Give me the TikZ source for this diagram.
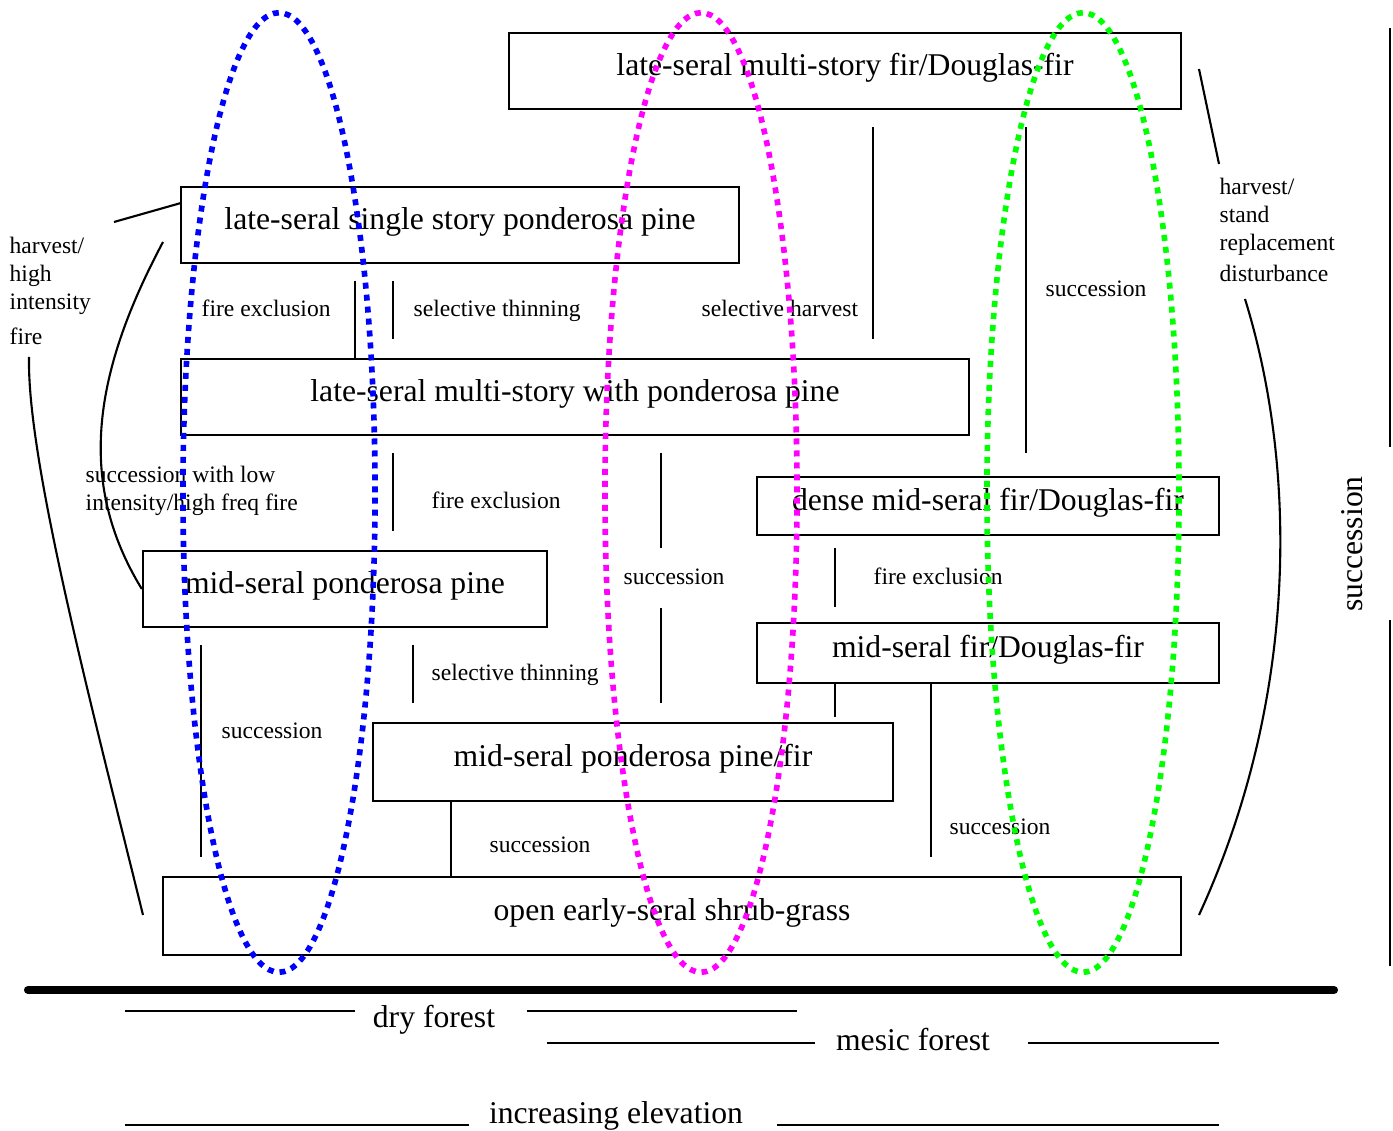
\documentclass[tikz,border=0pt]{standalone}
\usepackage{fontspec}
\setmainfont{Liberation Serif}
\definecolor{dryblue}{RGB}{0,0,255}
\definecolor{drymagenta}{RGB}{255,0,255}
\definecolor{mesicgreen}{RGB}{0,255,0}
\begin{document}
\begin{tikzpicture}[x=0.01cm,y=-0.01cm,
  stage/.style={shape=rectangle,draw=black,line width=0.6pt,inner sep=0pt,text height=0.7em,text depth=0.45em,font=\fontsize{9}{11}\selectfont},
  lbl/.style={inner sep=0pt,font=\fontsize{6.7}{8}\selectfont},
  axis/.style={inner sep=0pt,font=\fontsize{9}{11}\selectfont},
  zone/.style={line width=1.6pt,dash pattern=on 0.06cm off 0.06cm}]
\useasboundingbox (0,0) rectangle (1393,1131);

% seral stages
\node[stage,minimum width=6.72cm,minimum height=0.76cm] (lmfir) at (845,71) {late-seral multi-story fir/Douglas-fir};
\node[stage,minimum width=5.58cm,minimum height=0.76cm] (lsppine) at (460,225) {late-seral single story ponderosa pine};
\node[stage,minimum width=7.88cm,minimum height=0.76cm] (lmppine) at (575,397) {late-seral multi-story with ponderosa pine};
\node[stage,minimum width=4.62cm,minimum height=0.58cm] (dmfir) at (988,506) {dense mid-seral fir/Douglas-fir};
\node[stage,minimum width=4.04cm,minimum height=0.76cm] (mppine) at (345,589) {mid-seral ponderosa pine};
\node[stage,minimum width=4.62cm,minimum height=0.60cm] (mfir) at (988,653) {mid-seral fir/Douglas-fir};
\node[stage,minimum width=5.20cm,minimum height=0.78cm] (mppfir) at (633,762) {mid-seral ponderosa pine/fir};
\node[stage,minimum width=10.18cm,minimum height=0.78cm] (early) at (672,916) {open early-seral shrub-grass};

% transitions
\coordinate (fe1a) at (355,281); \coordinate (fe1b) at (355,359);
\path [-,line width=0.6pt] (fe1a) edge (fe1b);
\coordinate (st1a) at (393,281); \coordinate (st1b) at (393,339);
\path [-,line width=0.6pt] (st1a) edge (st1b);
\coordinate (shva) at (873,127); \coordinate (shvb) at (873,339);
\path [-,line width=0.6pt] (shva) edge (shvb);
\coordinate (sfira) at (1026,127); \coordinate (sfirb) at (1026,453);
\path [-,line width=0.6pt] (sfira) edge (sfirb);
\coordinate (fe2a) at (393,453); \coordinate (fe2b) at (393,531);
\path [-,line width=0.6pt] (fe2a) edge (fe2b);
\coordinate (su1a) at (661,453); \coordinate (su1b) at (661,548);
\path [-,line width=0.6pt] (su1a) edge (su1b);
\coordinate (su2a) at (661,608); \coordinate (su2b) at (661,703);
\path [-,line width=0.6pt] (su2a) edge (su2b);
\coordinate (fe3a) at (835,548); \coordinate (fe3b) at (835,607);
\path [-,line width=0.6pt] (fe3a) edge (fe3b);
\coordinate (mfa) at (835,683); \coordinate (mfb) at (835,717);
\path [-,line width=0.6pt] (mfa) edge (mfb);
\coordinate (su3a) at (931,684); \coordinate (su3b) at (931,857);
\path [-,line width=0.6pt] (su3a) edge (su3b);
\coordinate (st2a) at (413,645); \coordinate (st2b) at (413,703);
\path [-,line width=0.6pt] (st2a) edge (st2b);
\coordinate (su4a) at (201,645); \coordinate (su4b) at (201,857);
\path [-,line width=0.6pt] (su4a) edge (su4b);
\coordinate (su5a) at (451,801); \coordinate (su5b) at (451,877);
\path [-,line width=0.6pt] (su5a) edge (su5b);

% disturbance loops
\coordinate (hh1) at (114,222); \coordinate (hh2) at (181,203);
\path [-,line width=0.6pt] (hh1) edge (hh2);
\coordinate (lowf) at (163,242);
\draw[line width=0.6pt] (lowf) .. controls (95,370) and (75,480) .. (mppine.west);
\coordinate (hh3) at (29,357); \coordinate (hh4) at (143,915);
\draw[line width=0.6pt] (hh3) .. controls (27,460) and (90,700) .. (hh4);
\coordinate (hs1) at (1199,69); \coordinate (hs2) at (1219,164);
\path [-,line width=0.6pt] (hs1) edge (hs2);
\coordinate (hs3) at (1245,299); \coordinate (hs4) at (1199,915);
\draw[line width=0.6pt] (hs3) .. controls (1298,470) and (1298,700) .. (hs4);

% labels
\node[lbl,anchor=north west,align=left] (hhlbl) at (9,236) {harvest/\\high\\intensity\\[2pt]fire};
\node[lbl,anchor=north west,align=left] (hslbl) at (1219,177) {harvest/\\stand\\replacement\\[1pt]disturbance};
\node[lbl,anchor=north west,align=left] (lowlbl) at (85,465) {succession with low\\intensity/high freq fire};
\node[lbl,anchor=base west] (fe1) at (201,317) {fire exclusion};
\node[lbl,anchor=base west] (st1) at (413,317) {selective thinning};
\node[lbl,anchor=base west] (shv) at (701,317) {selective harvest};
\node[lbl,anchor=base west] (sfir) at (1045,297) {succession};
\node[lbl,anchor=base west] (fe2) at (431,509) {fire exclusion};
\node[lbl,anchor=base west] (su1) at (623,585) {succession};
\node[lbl,anchor=base west] (fe3) at (873,585) {fire exclusion};
\node[lbl,anchor=base west] (st2) at (431,681) {selective thinning};
\node[lbl,anchor=base west] (su4) at (221,739) {succession};
\node[lbl,anchor=base west] (su5) at (489,853) {succession};
\node[lbl,anchor=base west] (su3) at (949,835) {succession};
\node[axis,rotate=90] (suc) at (1352,544) {succession};
\draw[line width=0.6pt] (1390,28) -- (1390,447) (1390,620) -- (1390,966);

% forest zones
\draw[zone,dryblue] (279,492.5) ellipse [x radius=0.96cm, y radius=4.795cm];
\draw[zone,drymagenta] (701,492.5) ellipse [x radius=0.96cm, y radius=4.795cm];
\draw[zone,mesicgreen] (1083,492.5) ellipse [x radius=0.96cm, y radius=4.795cm];

% elevation axis
\draw[line width=2.3pt,line cap=round] (28,990) -- (1334,990);
\node[axis,anchor=base] (dry) at (434,1028) {dry forest};
\node[axis,anchor=base] (mesic) at (913,1051) {mesic forest};
\node[axis,anchor=base] (elev) at (616,1124) {increasing elevation};
\draw[line width=0.6pt] (125,1011) -- (355,1011) (527,1011) -- (797,1011);
\draw[line width=0.6pt] (547,1043) -- (815,1043) (1028,1043) -- (1219,1043);
\draw[line width=0.6pt] (125,1125) -- (469,1125) (777,1125) -- (1219,1125);
\end{tikzpicture}
\end{document}
